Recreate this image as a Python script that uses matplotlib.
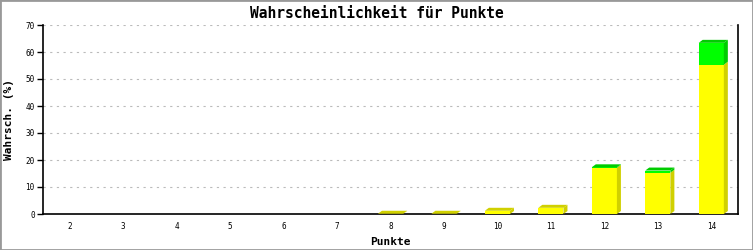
import matplotlib
matplotlib.use("Agg")
import matplotlib.pyplot as plt
from matplotlib.patches import Polygon, Rectangle

# data
punkte = ["2", "3", "4", "5", "6", "7", "8", "9", "10", "11", "12", "13", "14"]
gelb = [0, 0, 0, 0, 0, 0, 0.1, 0.1, 1.2, 2.3, 17.1, 15.3, 55.3]
gruen = [0, 0, 0, 0, 0, 0, 0, 0, 0, 0, 0.2, 0.8, 8.1]

FRONT = {"gelb": "#ffff00", "gruen": "#00ff00"}
SIDE = {"gelb": "#d0d000", "gruen": "#00cc00"}


def main():
    fig = plt.figure(figsize=(7.53, 2.5), dpi=100)
    ax = fig.add_axes([43 / 753, 36 / 250, 695 / 753, 189 / 250])

    font = "DejaVu Sans Mono"
    width = 0.47
    dx, dy = 0.075, 1.1  # 3d depth in data units

    for i, cat in enumerate(punkte):
        x0, x1 = i - width / 2, i + width / 2
        segs = [("gelb", 0, gelb[i]), ("gruen", gelb[i], gelb[i] + gruen[i])]
        segs = [s for s in segs if s[2] > s[1]]
        if not segs:
            continue
        for name, lo, hi in segs:
            ax.add_patch(Rectangle((x0, lo), width, hi - lo, facecolor=FRONT[name],
                                   edgecolor="none", zorder=3))
            ax.add_patch(Polygon([(x1, lo), (x1 + dx, lo + dy), (x1 + dx, hi + dy), (x1, hi)],
                                 closed=True, facecolor=SIDE[name], edgecolor="none", zorder=3))
        name, lo, hi = segs[-1]
        ax.add_patch(Polygon([(x0, hi), (x0 + dx, hi + dy), (x1 + dx, hi + dy), (x1, hi)],
                             closed=True, facecolor=SIDE[name], edgecolor="none", zorder=3))

    ax.set_xlim(-0.5, len(punkte) - 0.5)
    ax.set_ylim(0, 70)
    ax.set_xticks(range(len(punkte)))
    ax.set_xticklabels(punkte, fontsize=5.5, family=font)
    ax.set_yticks(range(0, 71, 10))
    ax.set_yticklabels([str(v) for v in range(0, 71, 10)], fontsize=5.5, family=font)
    ax.tick_params(axis="x", length=0, pad=6)
    ax.tick_params(axis="y", length=4, width=1, pad=2)

    ax.yaxis.grid(True, color="#bbbbbb", linestyle=(0, (2, 4)), linewidth=0.8)
    ax.set_axisbelow(True)
    ax.spines["top"].set_visible(False)
    for s in ("left", "bottom", "right"):
        ax.spines[s].set_linewidth(1.2)
        ax.spines[s].set_color("black")

    fig.text(0.5, 1 - 13 / 250, "Wahrscheinlichkeit für Punkte", family=font,
             fontsize=10.5, fontweight="bold", ha="center", va="center")
    ax.set_xlabel("Punkte", family=font, fontsize=8, fontweight="bold", labelpad=4)
    ax.set_ylabel("Wahrsch. (%)", family=font, fontsize=8, fontweight="bold", labelpad=8)

    fig.add_artist(Rectangle((0, 0), 1, 1, transform=fig.transFigure, fill=False,
                             edgecolor="#999999", linewidth=2))
    fig.savefig("out.png", dpi=100, facecolor="white")


if __name__ == "__main__":
    main()
